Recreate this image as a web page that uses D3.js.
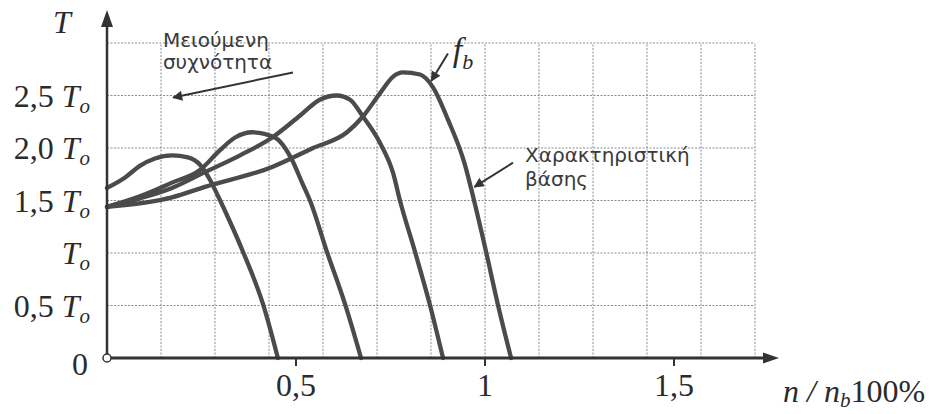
<!DOCTYPE html>
<html>
<head>
<meta charset="utf-8">
<script src="https://cdn.jsdelivr.net/npm/d3@7/dist/d3.min.js"></script>
<style>
  body { margin: 0; background: #fff; }
  svg { display: block; }
</style>
</head>
<body>
<div id="chart"></div>
<script>
//Data: x = n / n_b , y = T / T_o
var curve1N = [0, 0.048, 0.087, 0.127, 0.172, 0.214, 0.246, 0.272, 0.294, 0.325, 0.360, 0.413, 0.452];
var curve1T = [1.62, 1.72, 1.83, 1.90, 1.93, 1.91, 1.84, 1.70, 1.54, 1.30, 1.01, 0.51, 0];

var curve2N = [0, 0.087, 0.172, 0.246, 0.299, 0.339, 0.384, 0.444, 0.489, 0.516, 0.537, 0.582, 0.630, 0.672];
var curve2T = [1.44, 1.54, 1.67, 1.79, 1.98, 2.10, 2.15, 2.10, 1.89, 1.67, 1.50, 1.01, 0.51, 0];

var curve3N = [0, 0.087, 0.172, 0.259, 0.352, 0.437, 0.511, 0.563, 0.608, 0.643, 0.677, 0.722, 0.757, 0.775, 0.815, 0.854, 0.889];
var curve3T = [1.44, 1.52, 1.62, 1.77, 1.93, 2.10, 2.31, 2.46, 2.50, 2.46, 2.30, 2.05, 1.76, 1.50, 1.01, 0.51, 0];

//base characteristic (f_b)
var curve4N = [0, 0.172, 0.259, 0.437, 0.545, 0.635, 0.677, 0.722, 0.757, 0.783, 0.828, 0.862, 0.902, 0.947, 0.971, 1.003, 1.034, 1.069];
var curve4T = [1.44, 1.53, 1.63, 1.82, 2.00, 2.15, 2.30, 2.52, 2.68, 2.72, 2.70, 2.58, 2.27, 1.84, 1.50, 1.01, 0.51, 0];

var yTicks = [0, 0.5, 1, 1.5, 2, 2.5];
var yTickLabels = ["0", "0,5", "", "1,5", "2,0", "2,5"];
var xTicks = [0.5, 1, 1.5];
var xTickLabels = ["0,5", "1", "1,5"];
var gridRows = [0.5, 1, 1.5, 2, 2.5, 3];
var gridCols = 12; //paper grid, 7 squares per n_b

//Variables
var width = 933, height = 414;
var curvecolor = "#4b4b4b";
var axiscolor = "#333";
var gridcolor = "#858b94";
var serif = "'Liberation Serif', 'Times New Roman', serif";
var sans = "'DejaVu Sans', sans-serif";

var x = d3.scaleLinear().domain([0, 1]).range([107, 485]);
var y = d3.scaleLinear().domain([0, 3]).range([358, 43]);

var svg = d3.select("#chart").append("svg")
  .attr("width", width)
  .attr("height", height);

svg.append("rect").attr("width", width).attr("height", height).attr("fill", "#fff");

var defs = svg.append("defs");
defs.append("marker")
  .attr("id", "head")
  .attr("viewBox", "0 0 10 10")
  .attr("refX", 9).attr("refY", 5)
  .attr("markerWidth", 5.5).attr("markerHeight", 5)
  .attr("markerUnits", "strokeWidth")
  .attr("orient", "auto")
  .append("path")
  .attr("d", "M0,0 L10,5 L0,10 Z")
  .attr("fill", axiscolor);

//Grid (dotted)
var colX = d3.range(1, gridCols + 1).map(function(k) { return k / 7; });
var grid = svg.append("g")
  .attr("stroke", gridcolor)
  .attr("stroke-width", 1)
  .attr("stroke-dasharray", "2,1.5");

grid.selectAll(".hrow")
  .data(gridRows)
  .enter().append("line")
  .attr("x1", x(0)).attr("x2", x(gridCols / 7))
  .attr("y1", function(d) { return y(d); })
  .attr("y2", function(d) { return y(d); });

grid.selectAll(".vcol")
  .data(colX)
  .enter().append("line")
  .attr("x1", function(d) { return x(d); })
  .attr("x2", function(d) { return x(d); })
  .attr("y1", y(0)).attr("y2", y(3));

//Curves
var curves = [
  d3.zip(curve1N, curve1T),
  d3.zip(curve2N, curve2T),
  d3.zip(curve3N, curve3T),
  d3.zip(curve4N, curve4T)
];

var line = d3.line()
  .x(function(d) { return x(d[0]); })
  .y(function(d) { return y(d[1]); })
  .curve(d3.curveMonotoneX);

svg.append("g").selectAll("path")
  .data(curves)
  .enter().append("path")
  .attr("d", line)
  .attr("fill", "none")
  .attr("stroke", curvecolor)
  .attr("stroke-width", 4.3)
  .attr("stroke-linejoin", "round")
  .attr("stroke-linecap", "round");

//Axes
var axes = svg.append("g").attr("stroke", axiscolor).attr("fill", axiscolor);
axes.append("line")
  .attr("x1", x(0)).attr("x2", x(0))
  .attr("y1", y(0)).attr("y2", 24)
  .attr("stroke-width", 2.5);
axes.append("path")
  .attr("d", "M" + x(0) + ",10 L" + (x(0) - 6) + ",27 L" + (x(0) + 6) + ",27 Z")
  .attr("stroke", "none");
axes.append("line")
  .attr("x1", x(0)).attr("x2", 766)
  .attr("y1", y(0)).attr("y2", y(0))
  .attr("stroke-width", 3);
axes.append("path")
  .attr("d", "M779," + y(0) + " L763," + (y(0) - 5.5) + " L763," + (y(0) + 5.5) + " Z")
  .attr("stroke", "none");

axes.selectAll(".xtick")
  .data(xTicks)
  .enter().append("line")
  .attr("x1", function(d) { return x(d); })
  .attr("x2", function(d) { return x(d); })
  .attr("y1", y(0)).attr("y2", y(0) + 8)
  .attr("stroke-width", 2);

svg.append("circle")
  .attr("cx", x(0)).attr("cy", y(0)).attr("r", 4)
  .attr("fill", "#fff")
  .attr("stroke", axiscolor)
  .attr("stroke-width", 1.5);

//Y labels
var ylab = svg.append("g")
  .attr("font-family", serif)
  .attr("font-size", 32)
  .attr("fill", "#2b2b2b");

yTicks.forEach(function(v, i) {
  if (v === 0) {
    ylab.append("text")
      .attr("x", 88).attr("y", y(v) + 17)
      .attr("text-anchor", "end")
      .text(yTickLabels[i]);
    return;
  }
  var t = ylab.append("text")
    .attr("x", 90).attr("y", y(v) + 11)
    .attr("text-anchor", "end");
  if (yTickLabels[i] != "") t.append("tspan").text(yTickLabels[i] + " ");
  t.append("tspan").attr("font-style", "italic").text("T");
  t.append("tspan").attr("font-style", "italic").attr("font-size", 21).attr("dy", 6).text("o");
});

ylab.append("text")
  .attr("x", 53).attr("y", 33)
  .attr("font-style", "italic")
  .text("T");

//X labels
var xlab = svg.append("g")
  .attr("font-family", serif)
  .attr("font-size", 32)
  .attr("fill", "#2b2b2b");

xlab.selectAll(".xl")
  .data(xTicks)
  .enter().append("text")
  .attr("x", function(d) { return x(d); })
  .attr("y", 396)
  .attr("text-anchor", "middle")
  .text(function(d, i) { return xTickLabels[i]; });

var xt = xlab.append("text").attr("x", 783).attr("y", 402);
xt.append("tspan").attr("font-style", "italic").text("n");
xt.append("tspan").attr("font-style", "italic").text(" / ");
xt.append("tspan").attr("font-style", "italic").text("n");
xt.append("tspan").attr("font-style", "italic").attr("font-size", 21).attr("dy", 5).text("b");
xt.append("tspan").attr("dy", -5).text("100%");

//Annotations
var note = svg.append("g")
  .attr("font-family", sans)
  .attr("font-size", 20)
  .attr("fill", "#3a3a3a");

note.append("text").attr("x", x(0.148)).attr("y", y(2.96)).text("Μειούμενη");
note.append("text").attr("x", x(0.148)).attr("y", y(2.75)).text("συχνότητα");
note.append("text").attr("x", x(1.106)).attr("y", y(1.87)).text("Χαρακτηριστική");
note.append("text").attr("x", x(1.106)).attr("y", y(1.64)).text("βάσης");

var fb = svg.append("text")
  .attr("x", x(0.915)).attr("y", y(2.83))
  .attr("font-family", serif)
  .attr("font-size", 34)
  .attr("font-style", "italic")
  .attr("fill", "#2b2b2b");
fb.append("tspan").text("f");
fb.append("tspan").attr("font-size", 22).attr("dy", 8).text("b");

var arrows = [
  [[0.492, 2.72], [0.175, 2.48]],
  [[0.902, 2.90], [0.858, 2.64]],
  [[1.074, 1.86], [0.972, 1.63]]
];

svg.append("g").selectAll("line")
  .data(arrows)
  .enter().append("line")
  .attr("x1", function(d) { return x(d[0][0]); })
  .attr("y1", function(d) { return y(d[0][1]); })
  .attr("x2", function(d) { return x(d[1][0]); })
  .attr("y2", function(d) { return y(d[1][1]); })
  .attr("stroke", axiscolor)
  .attr("stroke-width", 2)
  .attr("marker-end", "url(#head)");
</script>
</body>
</html>
